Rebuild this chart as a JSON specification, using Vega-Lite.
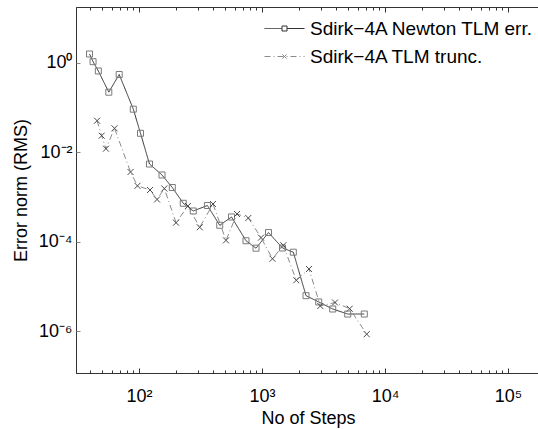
{
  "$schema": "https://vega.github.io/schema/vega-lite/v6.json",
  "width": 464,
  "height": 366,
  "autosize": "none",
  "padding": {"left": 76, "top": 7, "right": 0, "bottom": 56},
  "background": "white",
  "config": {"view": {"stroke": "#333", "strokeWidth": 1}},
  "data": {
    "values": [
      {"series": "Sdirk−4A Newton TLM err.", "steps": 39.6, "err": 1.59},
      {"series": "Sdirk−4A Newton TLM err.", "steps": 42.3, "err": 1.07},
      {"series": "Sdirk−4A Newton TLM err.", "steps": 46.7, "err": 0.662},
      {"series": "Sdirk−4A Newton TLM err.", "steps": 56.8, "err": 0.222},
      {"series": "Sdirk−4A Newton TLM err.", "steps": 69.0, "err": 0.553},
      {"series": "Sdirk−4A Newton TLM err.", "steps": 89.9, "err": 0.0925},
      {"series": "Sdirk−4A Newton TLM err.", "steps": 102.8, "err": 0.0267},
      {"series": "Sdirk−4A Newton TLM err.", "steps": 121.7, "err": 0.00548},
      {"series": "Sdirk−4A Newton TLM err.", "steps": 153.8, "err": 0.00311},
      {"series": "Sdirk−4A Newton TLM err.", "steps": 186.5, "err": 0.00163},
      {"series": "Sdirk−4A Newton TLM err.", "steps": 229, "err": 0.000723},
      {"series": "Sdirk−4A Newton TLM err.", "steps": 276, "err": 0.000486},
      {"series": "Sdirk−4A Newton TLM err.", "steps": 360, "err": 0.000645},
      {"series": "Sdirk−4A Newton TLM err.", "steps": 453, "err": 0.000233},
      {"series": "Sdirk−4A Newton TLM err.", "steps": 565, "err": 0.000357},
      {"series": "Sdirk−4A Newton TLM err.", "steps": 741, "err": 0.000105},
      {"series": "Sdirk−4A Newton TLM err.", "steps": 894, "err": 0.0000715},
      {"series": "Sdirk−4A Newton TLM err.", "steps": 1129, "err": 0.00016},
      {"series": "Sdirk−4A Newton TLM err.", "steps": 1468, "err": 0.0000722},
      {"series": "Sdirk−4A Newton TLM err.", "steps": 1797, "err": 0.0000581},
      {"series": "Sdirk−4A Newton TLM err.", "steps": 2279, "err": 0.00000618},
      {"series": "Sdirk−4A Newton TLM err.", "steps": 2891, "err": 0.00000447},
      {"series": "Sdirk−4A Newton TLM err.", "steps": 3758, "err": 0.00000311},
      {"series": "Sdirk−4A Newton TLM err.", "steps": 4975, "err": 0.0000024},
      {"series": "Sdirk−4A Newton TLM err.", "steps": 6787, "err": 0.0000024},
      {"series": "Sdirk−4A TLM trunc.", "steps": 45.6, "err": 0.0511},
      {"series": "Sdirk−4A TLM trunc.", "steps": 49.7, "err": 0.0236},
      {"series": "Sdirk−4A TLM trunc.", "steps": 53.9, "err": 0.01207},
      {"series": "Sdirk−4A TLM trunc.", "steps": 63.2, "err": 0.0345},
      {"series": "Sdirk−4A TLM trunc.", "steps": 85.3, "err": 0.00363},
      {"series": "Sdirk−4A TLM trunc.", "steps": 97.2, "err": 0.00178},
      {"series": "Sdirk−4A TLM trunc.", "steps": 122.9, "err": 0.001435},
      {"series": "Sdirk−4A TLM trunc.", "steps": 140.1, "err": 0.00088},
      {"series": "Sdirk−4A TLM trunc.", "steps": 160.6, "err": 0.00155},
      {"series": "Sdirk−4A TLM trunc.", "steps": 200, "err": 0.000266},
      {"series": "Sdirk−4A TLM trunc.", "steps": 250, "err": 0.00063},
      {"series": "Sdirk−4A TLM trunc.", "steps": 311.6, "err": 0.00021},
      {"series": "Sdirk−4A TLM trunc.", "steps": 399.6, "err": 0.000698},
      {"series": "Sdirk−4A TLM trunc.", "steps": 509.7, "err": 0.000107},
      {"series": "Sdirk−4A TLM trunc.", "steps": 626, "err": 0.000417},
      {"series": "Sdirk−4A TLM trunc.", "steps": 773.7, "err": 0.000339},
      {"series": "Sdirk−4A TLM trunc.", "steps": 981.5, "err": 0.000123},
      {"series": "Sdirk−4A TLM trunc.", "steps": 1217, "err": 0.0000414},
      {"series": "Sdirk−4A TLM trunc.", "steps": 1490, "err": 0.000083},
      {"series": "Sdirk−4A TLM trunc.", "steps": 1900, "err": 0.0000137},
      {"series": "Sdirk−4A TLM trunc.", "steps": 2410, "err": 0.0000245},
      {"series": "Sdirk−4A TLM trunc.", "steps": 2979, "err": 0.00000363},
      {"series": "Sdirk−4A TLM trunc.", "steps": 3922, "err": 0.00000435},
      {"series": "Sdirk−4A TLM trunc.", "steps": 5164, "err": 0.00000316},
      {"series": "Sdirk−4A TLM trunc.", "steps": 7100, "err": 0.000000849}
    ]
  },
  "resolve": {"axis": {"x": "independent", "y": "independent"}},
  "layer": [
    {
      "mark": {"type": "line", "strokeWidth": 1},
      "encoding": {
        "x": {
          "field": "steps", "type": "quantitative",
          "scale": {"type": "log", "domain": [30.74, 182000], "nice": false, "zero": false},
          "axis": {
            "orient": "bottom", "values": [100, 1000, 10000, 100000],
            "labelExpr": "datum.value < 500 ? '10²' : datum.value < 5000 ? '10³' : datum.value < 50000 ? '10⁴' : '10⁵'",
            "ticks": false, "grid": false, "domainColor": "#333", "domainWidth": 1,
            "labelFont": "Liberation Sans", "labelFontSize": 18, "labelColor": "#000",
            "labelPadding": 14, "labelOverlap": false, "labelFlush": false,
            "title": "No of Steps", "titleFont": "Liberation Sans", "titleFontSize": 18,
            "titleFontWeight": "normal", "titleColor": "#000", "titlePadding": 4
          }
        },
        "y": {
          "field": "err", "type": "quantitative",
          "scale": {"type": "log", "domain": [1.148e-7, 17.93], "nice": false, "zero": false},
          "axis": {
            "orient": "left", "values": [1, 0.01, 0.0001, 0.000001],
            "labelExpr": "datum.value > 0.1 ? '10⁰' : datum.value > 0.001 ? '10⁻²' : datum.value > 0.00001 ? '10⁻⁴' : '10⁻⁶'",
            "ticks": false, "grid": false, "domainColor": "#333", "domainWidth": 1,
            "labelFont": "Liberation Sans", "labelFontSize": 18, "labelColor": "#000",
            "labelPadding": 4, "labelOverlap": false, "labelFlush": false,
            "title": "Error norm (RMS)", "titleFont": "Liberation Sans", "titleFontSize": 18,
            "titleFontWeight": "normal", "titleColor": "#000", "titlePadding": 8
          }
        },
        "strokeDash": {
          "field": "series", "type": "nominal",
          "scale": {"domain": ["Sdirk−4A Newton TLM err.", "Sdirk−4A TLM trunc."], "range": [[1, 0], [6, 3, 1, 3]]}
        },
        "color": {
          "field": "series", "type": "nominal",
          "scale": {"domain": ["Sdirk−4A Newton TLM err.", "Sdirk−4A TLM trunc."], "range": ["#333333", "#8a8a8a"]},
          "legend": {
            "orient": "none", "legendX": 199, "legendY": 12, "padding": 0, "title": null,
            "symbolSize": 100, "symbolStrokeWidth": 1,
            "labelFont": "Liberation Sans", "labelFontSize": 19, "labelColor": "#000",
            "labelOffset": 16, "rowPadding": 8, "labelLimit": 400,
            "encode": {
              "symbols": {
                "update": {
                  "shape": {"signal": "datum.value == 'Sdirk−4A Newton TLM err.' ? 'M-4,0H-0.5M0.5,0H4M-0.5,-0.5H0.5V0.5H-0.5Z' : 'M-4,0H4M-0.42,-0.42L0.42,0.42M-0.42,0.42L0.42,-0.42'"},
                  "fill": {"value": "transparent"}
                }
              }
            }
          }
        }
      }
    },
    {
      "transform": [{"filter": "datum.series == 'Sdirk−4A Newton TLM err.'"}],
      "mark": {"type": "point", "shape": "square", "filled": false, "size": 36, "strokeWidth": 1, "color": "#7a7a7a", "opacity": 1},
      "encoding": {
        "x": {
          "field": "steps", "type": "quantitative",
          "axis": {
            "orient": "bottom",
            "values": [40, 50, 60, 70, 80, 90, 100, 200, 300, 400, 500, 600, 700, 800, 900, 1000, 2000, 3000, 4000, 5000, 6000, 7000, 8000, 9000, 10000, 20000, 30000, 40000, 50000, 60000, 70000, 80000, 90000, 100000],
            "labels": false, "domain": false, "grid": false, "title": null,
            "tickColor": "#333", "tickWidth": 1,
            "tickSize": {"condition": {"test": "abs(log(datum.value)/LN10 - round(log(datum.value)/LN10)) < 0.001", "value": -5}, "value": -3}
          }
        },
        "y": {
          "field": "err", "type": "quantitative",
          "axis": {
            "orient": "left", "values": [1, 0.01, 0.0001, 0.000001],
            "labels": false, "domain": false, "grid": false, "title": null,
            "tickColor": "#888", "tickWidth": 1, "tickSize": -4
          }
        }
      }
    },
    {
      "transform": [{"filter": "datum.series == 'Sdirk−4A TLM trunc.'"}],
      "mark": {"type": "point", "shape": "M-1,-1L1,1M-1,1L1,-1", "filled": false, "size": 36, "strokeWidth": 1, "color": "#4a4a4a", "opacity": 1},
      "encoding": {
        "x": {
          "field": "steps", "type": "quantitative",
          "axis": {
            "orient": "top",
            "values": [40, 50, 60, 70, 80, 90, 100, 200, 300, 400, 500, 600, 700, 800, 900, 1000, 2000, 3000, 4000, 5000, 6000, 7000, 8000, 9000, 10000, 20000, 30000, 40000, 50000, 60000, 70000, 80000, 90000, 100000],
            "labels": false, "domain": false, "grid": false, "title": null,
            "tickColor": "#333", "tickWidth": 1,
            "tickSize": {"condition": {"test": "abs(log(datum.value)/LN10 - round(log(datum.value)/LN10)) < 0.001", "value": -5}, "value": -3}
          }
        },
        "y": {"field": "err", "type": "quantitative", "axis": null}
      }
    }
  ]
}
